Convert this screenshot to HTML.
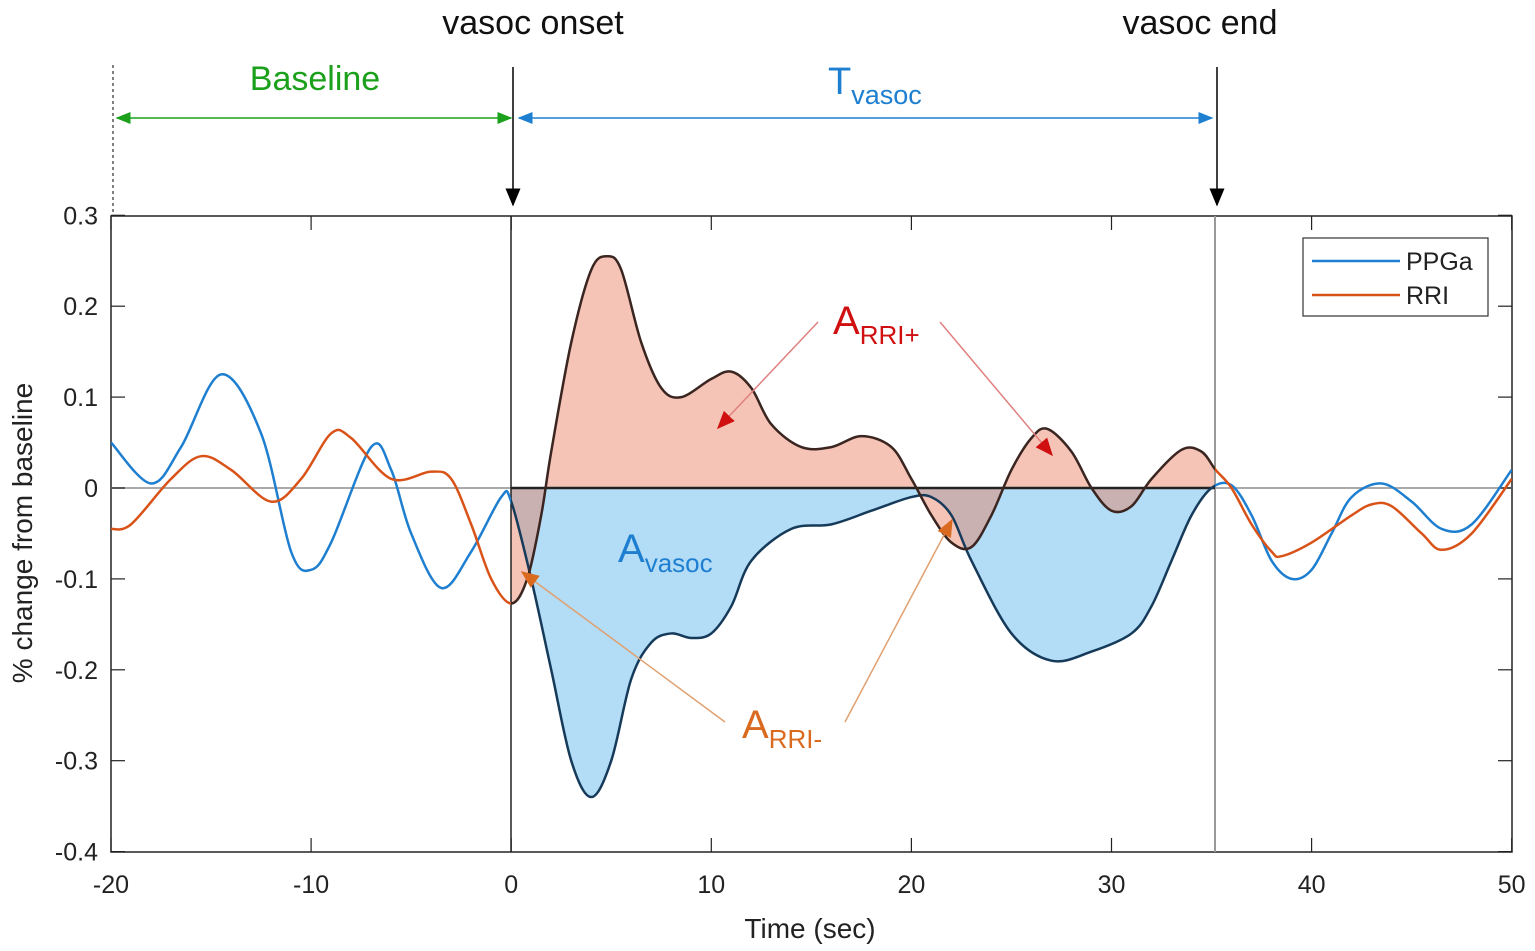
<!DOCTYPE html>
<html><head><meta charset="utf-8"><style>
html,body{margin:0;padding:0;background:#fff;}
svg{display:block;font-family:"Liberation Sans",Arial,sans-serif;}
</style></head><body>
<svg id="s" width="1535" height="951" viewBox="0 0 1535 951" xmlns="http://www.w3.org/2000/svg">
<defs>
<marker id="ag" markerWidth="10" markerHeight="8" refX="9" refY="4" orient="auto-start-reverse"><path d="M0,0 L10,4 L0,8 z" fill="#1aa01a"/></marker>
<marker id="ab" markerWidth="10" markerHeight="8" refX="9" refY="4" orient="auto-start-reverse"><path d="M0,0 L10,4 L0,8 z" fill="#1e7fd0"/></marker>
<marker id="ak" markerWidth="12" markerHeight="10" refX="11" refY="5" orient="auto"><path d="M0,0 L12,5 L0,10 z" fill="#000"/></marker>
<marker id="ar" markerWidth="12" markerHeight="10" refX="11" refY="5" orient="auto"><path d="M0,0 L12,5 L0,10 z" fill="#d01010"/></marker>
<marker id="ao" markerWidth="12" markerHeight="10" refX="11" refY="5" orient="auto"><path d="M0,0 L12,5 L0,10 z" fill="#d96a20"/></marker>
<clipPath id="cin"><rect x="511" y="200" width="704" height="700"/></clipPath>
<clipPath id="cout"><path d="M111,200 H511 V900 H111 Z M1215,200 H1512 V900 H1215 Z"/></clipPath>
</defs>
<g id="fills"></g>
<rect x="111" y="216" width="1401" height="636" fill="none" stroke="#222" stroke-width="1.5"/>
<line x1="111" y1="488" x2="1512" y2="488" stroke="#aaa" stroke-width="2"/>
<line x1="511" y1="216" x2="511" y2="852" stroke="#222" stroke-width="1.5"/>
<line x1="1215" y1="216" x2="1215" y2="852" stroke="#999" stroke-width="2"/>
<line x1="511" y1="488" x2="1215" y2="488" stroke="#222" stroke-width="2.5"/>
<g id="ticks" stroke="#222" stroke-width="1.2"></g>
<g id="lines"></g>
<g font-size="25" fill="#222" id="lbl"></g>
<text x="810" y="938" font-size="28" text-anchor="middle" fill="#222">Time (sec)</text>
<text transform="translate(32,533) rotate(-90)" font-size="28" text-anchor="middle" fill="#222">% change from baseline</text>
<!-- legend -->
<rect x="1303" y="238" width="185" height="78" fill="#fff" stroke="#333" stroke-width="1.2"/>
<line x1="1312" y1="261" x2="1400" y2="261" stroke="#1e7fd0" stroke-width="2.5"/>
<line x1="1312" y1="295" x2="1400" y2="295" stroke="#d95319" stroke-width="2.5"/>
<text x="1406" y="270" font-size="25" fill="#222">PPGa</text>
<text x="1406" y="304" font-size="25" fill="#222">RRI</text>
<!-- top annotations -->
<text x="533" y="34" font-size="34" text-anchor="middle" fill="#111">vasoc onset</text>
<text x="1200" y="34" font-size="34" text-anchor="middle" fill="#111">vasoc end</text>
<line x1="513" y1="67" x2="513" y2="205" stroke="#000" stroke-width="1.5" marker-end="url(#ak)"/>
<line x1="1217" y1="67" x2="1217" y2="205" stroke="#000" stroke-width="1.5" marker-end="url(#ak)"/>
<line x1="113" y1="65" x2="113" y2="212" stroke="#000" stroke-width="1" stroke-dasharray="3,3"/>
<line x1="117" y1="118" x2="511" y2="118" stroke="#1aa01a" stroke-width="1.5" marker-start="url(#ag)" marker-end="url(#ag)"/>
<text x="315" y="90" font-size="34" text-anchor="middle" fill="#1aa01a">Baseline</text>
<line x1="519" y1="118" x2="1212" y2="118" stroke="#1e7fd0" stroke-width="1.5" marker-start="url(#ab)" marker-end="url(#ab)"/>
<text x="828" y="94" font-size="38" fill="#1e7fd0">T<tspan font-size="27" dy="10">vasoc</tspan></text>
<!-- area annotations -->
<text x="833" y="334" font-size="40" fill="#d01010">A<tspan font-size="26" dy="10">RRI+</tspan></text>
<line x1="818" y1="322" x2="718" y2="428" stroke="#e08080" stroke-width="1.5" marker-end="url(#ar)"/>
<line x1="940" y1="322" x2="1052" y2="455" stroke="#e08080" stroke-width="1.5" marker-end="url(#ar)"/>
<text x="618" y="562" font-size="40" fill="#1e7fd0">A<tspan font-size="26" dy="10">vasoc</tspan></text>
<text x="742" y="738" font-size="40" fill="#d96a20">A<tspan font-size="26" dy="10">RRI-</tspan></text>
<line x1="725" y1="722" x2="522" y2="572" stroke="#e0a070" stroke-width="1.5" marker-end="url(#ao)"/>
<line x1="845" y1="722" x2="952" y2="520" stroke="#e0a070" stroke-width="1.5" marker-end="url(#ao)"/>
</svg>
<script>
var X=t=>111+20.01*(t+20), Y=v=>488-909*v;
var ppg=[[-20,.05],[-18,.005],[-16.5,.045],[-14.5,.125],[-12.5,.06],[-11,-.07],[-10,-.09],[-9,-.06],[-7,.045],[-6,.02],[-5,-.05],[-3.5,-.11],[-2,-.07],[-.5,-.01],[0,-.015],[1,-.1],[2,-.2],[3,-.3],[4,-.34],[5,-.3],[6,-.21],[7,-.17],[8,-.16],[9,-.165],[10,-.16],[11,-.13],[12,-.08],[14,-.045],[16,-.04],[18,-.025],[20,-.01],[21,-.01],[22,-.03],[23,-.08],[25,-.16],[27,-.19],[29,-.18],[31,-.16],[32,-.13],[33,-.08],[34,-.03],[35,0],[36,.003],[37,-.03],[38,-.08],[39,-.1],[40,-.09],[41,-.05],[42,-.01],[43.5,.005],[45,-.015],[46.5,-.045],[48,-.04],[50,.02]];
var rri=[[-20,-.045],[-19,-.04],[-17,.01],[-15.5,.035],[-14,.02],[-12,-.015],[-10.5,.01],[-9,.06],[-8,.055],[-6,.01],[-4,.018],[-3,.01],[-2,-.04],[-1,-.1],[0,-.127],[.8,-.1],[1.5,-.03],[2,.04],[3,.16],[4,.24],[4.8,.255],[5.5,.24],[6.5,.16],[7.5,.11],[8.5,.1],[10,.12],[11,.128],[12,.11],[13,.07],[14.5,.045],[16,.045],[17.5,.057],[19,.045],[20,.01],[21,-.03],[22,-.06],[23,-.065],[24,-.03],[25,.02],[26,.055],[26.8,.065],[28,.04],[29,0],[30,-.025],[31,-.02],[32,.01],[33.5,.042],[34.5,.04],[35.2,.02],[36,0],[37,-.04],[38,-.07],[38.5,-.075],[40,-.06],[42,-.03],[43,-.018],[44,-.02],[45.5,-.05],[46.5,-.068],[48,-.05],[50,.01]];
function path(d){var p=d.map(a=>[X(a[0]),Y(a[1])]);var s="M"+p[0][0]+","+p[0][1];
for(var i=0;i<p.length-1;i++){var p0=p[i-1]||p[i],p1=p[i],p2=p[i+1],p3=p[i+2]||p2;
s+=" C"+(p1[0]+(p2[0]-p0[0])/6)+","+(p1[1]+(p2[1]-p0[1])/6)+" "+(p2[0]-(p3[0]-p1[0])/6)+","+(p2[1]-(p3[1]-p1[1])/6)+" "+p2[0]+","+p2[1];}return s;}
var NS="http://www.w3.org/2000/svg";
function el(par,tag,at){var e=document.createElementNS(NS,tag);for(var k in at)e.setAttribute(k,at[k]);document.getElementById(par).appendChild(e);return e;}
var pp=path(ppg),rp=path(rri);
var close=" L1512,488 L111,488 Z";
el("fills","path",{d:pp+close,fill:"#b3dcf7","clip-path":"url(#cin)"});
el("fills","path",{d:rp+close,fill:"rgba(232,115,80,0.42)","clip-path":"url(#cin)"});
el("lines","path",{d:pp,fill:"none",stroke:"#1e7fd0","stroke-width":2.5,"clip-path":"url(#cout)"});
el("lines","path",{d:rp,fill:"none",stroke:"#d95319","stroke-width":2.5,"clip-path":"url(#cout)"});
el("lines","path",{d:pp,fill:"none",stroke:"#163a5a","stroke-width":2.5,"clip-path":"url(#cin)"});
el("lines","path",{d:rp,fill:"none",stroke:"#3a2520","stroke-width":2.5,"clip-path":"url(#cin)"});
for(var t=-20;t<=50;t+=10){var x=X(t);el("ticks","line",{x1:x,y1:216,x2:x,y2:230});el("ticks","line",{x1:x,y1:852,x2:x,y2:838});
var tx=el("lbl","text",{x:x,y:893,"text-anchor":"middle"});tx.textContent=t;}
for(var i=-4;i<=3;i++){var v=i/10,y=Y(v);el("ticks","line",{x1:111,y1:y,x2:125,y2:y});el("ticks","line",{x1:1512,y1:y,x2:1498,y2:y});
var ty=el("lbl","text",{x:98,y:y+9,"text-anchor":"end"});ty.textContent=(i==0?"0":v.toFixed(1));}
</script>
</body></html>
